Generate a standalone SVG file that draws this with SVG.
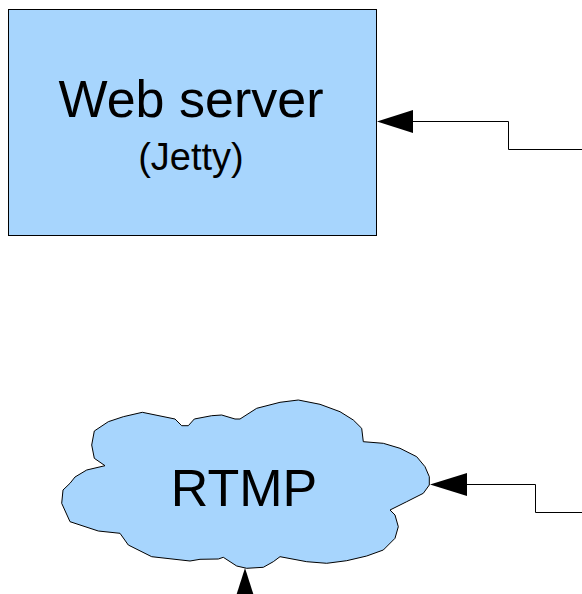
<svg xmlns="http://www.w3.org/2000/svg" width="582" height="594" viewBox="0 0 582 594">
<style>
.node{fill:#a7d5fd;stroke:#000;stroke-width:1}
.lbl{font-family:"Liberation Sans",Arial,sans-serif;fill:#000;text-anchor:middle}
.conn{fill:none;stroke:#000;stroke-width:1}
.head{fill:#000;stroke:none}
</style>
<rect width="582" height="594" fill="#fff"/>
<g id="webserver">
<rect class="node" x="8.5" y="9.5" width="368" height="226"/>
<text class="lbl" x="191" y="117" font-size="52">Web server</text>
<text class="lbl" x="191" y="170" font-size="38">(Jetty)</text>
</g>
<g id="rtmp">
<path class="node" d="M61.7,503.3 L63,490 L70,483.3 L75,477 L86.7,470 L105,465.7 L94.3,458.3 L91.7,445 L94.3,431 L108.3,421.7 L123.3,416.7 L142.3,412.3 L175,419 L181.7,425.7 L188.3,425.7 L194.3,419 L211.7,415.7 L221.7,415 L235,419 L240,419 L256.7,408.3 L280,402.3 L298.3,400 L320,404.3 L340,411.7 L353.3,420 L361.7,428.3 L363.3,441.7 L383.3,443.3 L400,448.3 L416.7,456.7 L425,466.7 L429.3,476.7 L429.3,485 L423.3,493.3 L406.7,501.7 L390,510 L395,515 L398.3,526.7 L395,538.3 L383.3,550 L366.7,556 L346.7,560.7 L326.7,563.3 L306.7,561.7 L280,556.7 L273.3,561.7 L263.3,567.3 L246.7,568.3 L236.7,566 L223.3,557.3 L218.3,559 L200,559.3 L190,561 L151.7,556.7 L128.3,545 L120,533.3 L98.3,531 L70,521.7 Z"/>
<text class="lbl" x="244" y="506" font-size="52">RTMP</text>
</g>
<g id="connectors">
<polyline class="conn" points="582,149.5 508.5,149.5 508.5,121.5 410,121.5"/>
<polygon class="head" points="377,121.5 413,110 413,133"/>
<polyline class="conn" points="582,512.5 535.5,512.5 535.5,484.5 464,484.5"/>
<polygon class="head" points="430,484.5 467,473 467,496"/>
<polygon class="head" points="245,568 233.5,604 256.5,604"/>
</g>
</svg>
